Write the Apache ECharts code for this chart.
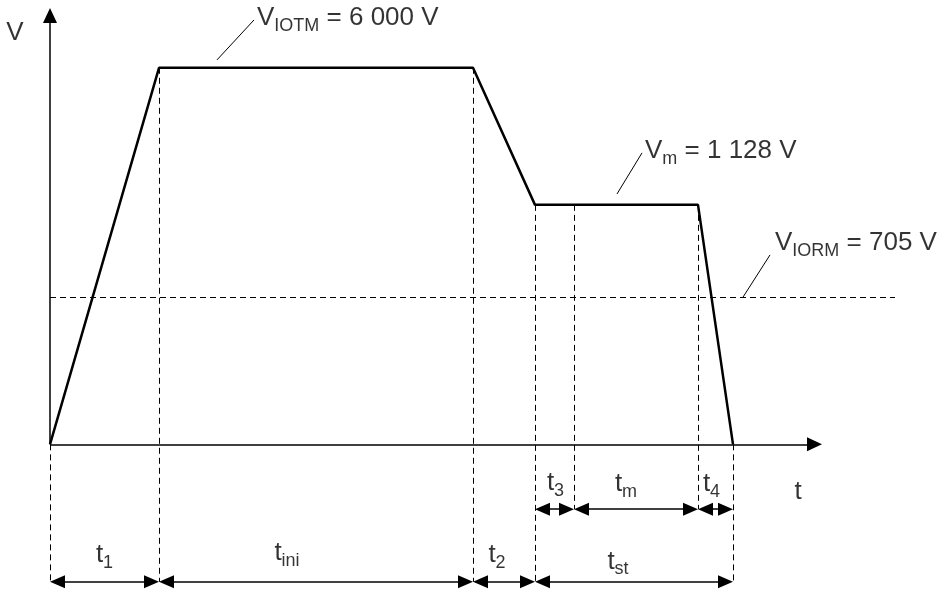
<!DOCTYPE html>
<html>
<head>
<meta charset="utf-8">
<script src="https://cdn.jsdelivr.net/npm/echarts@6/dist/echarts.min.js"></script>
<style>
html, body { margin: 0; padding: 0; background: #fff; }
#chart { width: 946px; height: 595px; }
</style>
</head>
<body>
<div id="chart"></div>
<script>
// schematic test profile (drawing units, not to scale)
var waveT = [0, 109, 423, 485, 648, 683];
var waveV = [0, 100, 100, 63.6, 63.6, 0];
var levelIORM = 39.1;

// voltage levels named in the drawing
var levelNames = ['IOTM', 'm', 'IORM'];
var levelValues = [6000, 1128, 705];

// time marks with dashed guides
var guideT = [0, 109, 423, 485, 524, 648, 683];
var guideTop = [0, 100, 100, 63.6, 63.6, 63.6, 0];
var guideRow = [0, 0, 0, 0, 1, 1, 0];

// dimension arrows: row 0 = lower, row 1 = upper
var spanFrom = [0, 109, 423, 485, 485, 524, 648];
var spanTo = [109, 423, 485, 683, 524, 648, 683];
var spanSub = ['1', 'ini', '2', 'st', '3', 'm', '4'];
var spanRow = [0, 0, 0, 0, 1, 1, 1];

// ---- layout ----
var rowY = [-36.5, -17.2];
var spanShift = [0, -29, -7, -16, 1, -10, -4];
var spanLift = [7.2, 7.6, 7.2, 5.4, 7.0, 6.6, 6.8];
var xEnd = 822, yEnd = 118;
var iormEnd = 845;
var leaderFrom = [[167, 102.1], [567, 66.5], [693, 39.1]];
var leaderTo = [[204, 112.7], [592, 77.4], [720, 50.3]];
var levelLabelAt = [[207, 113.2], [595, 78.0], [725, 53.4]];

var FONT = 'Liberation Sans, Arial, sans-serif';
var HEAD = 15;              // arrow head length, px
var PX_X = 1, PX_Y = 3.766; // px per unit

function fmt(v) {
    return String(v).replace(/\B(?=(\d{3})+(?!\d))/g, ' ');
}

var richText = {
    m: { fontSize: 26, lineHeight: 26, fontFamily: FONT, color: '#000', verticalAlign: 'top' },
    s: { fontSize: 18, lineHeight: 18, fontFamily: FONT, color: '#000', verticalAlign: 'top', padding: [12, 0, 0, 0] }
};

var wave = [];
for (var i = 0; i < waveT.length; i++) {
    wave.push([waveT[i], waveV[i]]);
}

var guides = [];
for (var i = 0; i < guideT.length; i++) {
    guides.push([{ coord: [guideT[i], guideTop[i]] }, { coord: [guideT[i], rowY[guideRow[i]]] }]);
}
guides.push([{ coord: [0, levelIORM] }, { coord: [iormEnd, levelIORM] }]);

// triangle symbols are centred on the end point, so pull the ends in by half a head
var hx = HEAD / 2 / PX_X, hy = HEAD / 2 / PX_Y;

var spans = [];
var textItems = [];
for (var i = 0; i < spanFrom.length; i++) {
    var y = rowY[spanRow[i]];
    spans.push([{ coord: [spanFrom[i] + hx, y] }, { coord: [spanTo[i] - hx, y] }]);
    textItems.push({
        value: [(spanFrom[i] + spanTo[i]) / 2 + spanShift[i], y + spanLift[i]],
        txt: '{m|t}{s|' + spanSub[i] + '}',
        align: 'center'
    });
}

var leaders = [];
for (var i = 0; i < levelNames.length; i++) {
    leaders.push([{ coord: leaderFrom[i] }, { coord: leaderTo[i] }]);
    textItems.push({
        value: levelLabelAt[i],
        txt: '{m|V}{s|' + levelNames[i] + '}{m| = ' + fmt(levelValues[i]) + ' V}',
        align: 'left'
    });
}
textItems.push({ value: [-35, 109.4], txt: '{m|V}', align: 'center' });
textItems.push({ value: [748, -12.6], txt: '{m|t}', align: 'center' });

var myChart = echarts.init(document.getElementById('chart'));

var option = {
    animation: false,
    backgroundColor: '#fff',
    grid: { left: 0, right: 0, top: 0, bottom: 0 },
    xAxis: { type: 'value', min: -50, max: 896, show: false },
    yAxis: { type: 'value', min: -40, max: 118, show: false },
    series: [
        {
            // axes (plain lines) + heads
            type: 'line', data: [], silent: true,
            markLine: {
                silent: true, animation: false,
                symbol: ['none', 'triangle'], symbolSize: [14, HEAD],
                label: { show: false },
                lineStyle: { color: '#000', width: 1.5, type: 'solid' },
                emphasis: { disabled: true },
                data: [
                    [{ coord: [0, 0] }, { coord: [xEnd - 50 - hx, 0] }],
                    [{ coord: [0, 0] }, { coord: [0, yEnd - 2.1 - hy] }]
                ]
            }
        },
        {
            // dashed guides
            type: 'line', data: [], silent: true,
            markLine: {
                silent: true, animation: false,
                symbol: ['none', 'none'],
                label: { show: false },
                lineStyle: { color: '#000', width: 1, type: [6, 4] },
                emphasis: { disabled: true },
                data: guides
            }
        },
        {
            // dimension arrows
            type: 'line', data: [], silent: true,
            markLine: {
                silent: true, animation: false,
                symbol: ['triangle', 'triangle'], symbolSize: [13, HEAD],
                label: { show: false },
                lineStyle: { color: '#000', width: 1.5, type: 'solid' },
                emphasis: { disabled: true },
                data: spans
            }
        },
        {
            // leader lines
            type: 'line', data: [], silent: true,
            markLine: {
                silent: true, animation: false,
                symbol: ['none', 'none'],
                label: { show: false },
                lineStyle: { color: '#000', width: 1, type: 'solid' },
                emphasis: { disabled: true },
                data: leaders
            }
        },
        {
            // waveform
            type: 'line', data: wave, showSymbol: false, silent: true, z: 5,
            lineStyle: { color: '#000', width: 2.5 }
        },
        {
            // texts
            type: 'scatter', symbolSize: 0, silent: true, clip: false,
            data: textItems.map(function (d) {
                return {
                    value: d.value,
                    label: {
                        show: true, position: 'inside', align: d.align, verticalAlign: 'middle',
                        formatter: d.txt, rich: richText
                    }
                };
            })
        }
    ]
};

myChart.setOption(option);
</script>
</body>
</html>
